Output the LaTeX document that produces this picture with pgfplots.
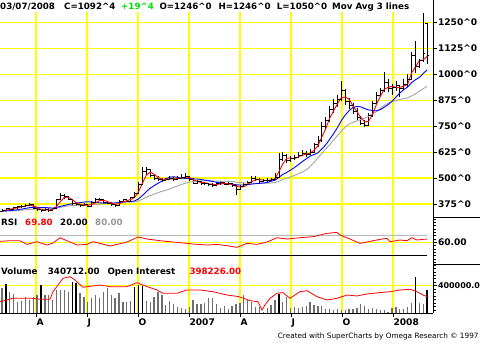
\documentclass[border=0pt]{standalone}
\usepackage{pgfplots}
\usepackage{pgfplotstable}
\pgfplotsset{compat=1.18}
\usepackage{fontspec}
\setmainfont{DejaVu Sans}
\definecolor{gridy}{RGB}{255,255,0}
\definecolor{mared}{RGB}{255,0,0}
\definecolor{mablue}{RGB}{0,0,255}
\definecolor{magray}{RGB}{165,165,165}
\definecolor{upgreen}{RGB}{0,225,0}
\definecolor{lvlgray}{RGB}{185,185,185}
\definecolor{volgray}{RGB}{110,110,110}
\definecolor{txtgray}{RGB}{150,150,150}
\newcommand{\hdr}{\fontsize{8.7}{10}\selectfont\bfseries}
\newcommand{\tkl}{\fontsize{9.1}{10}\selectfont\bfseries}

\pgfplotstableread{
i o h l c
0 340 352 336 345
1 345 356 341 352
2 352 357 344 350
3 350 362 348 358
4 358 366 352 362
5 362 370 357 365
6 365 376 360 370
7 370 378 364 372
8 372 374 350 355
9 355 360 342 348
10 348 352 336 342
11 342 355 340 350
12 350 354 338 345
13 345 358 342 352
14 352 400 350 395
15 395 428 392 415
16 415 425 400 410
17 410 415 392 398
18 398 400 372 378
19 378 382 365 372
20 372 376 362 368
21 368 378 364 372
22 372 375 360 365
23 365 388 362 382
24 382 402 380 395
25 395 404 388 398
26 398 400 380 385
27 385 390 375 380
28 380 384 366 372
29 372 376 362 368
30 368 392 366 388
31 388 400 384 395
32 395 398 384 390
33 390 410 388 405
34 405 432 402 425
35 425 480 422 470
36 470 555 468 530
37 530 552 515 540
38 540 545 505 515
39 515 520 492 500
40 500 508 485 495
41 495 500 480 490
42 490 502 484 495
43 495 508 490 500
44 500 505 485 492
45 492 510 490 500
46 500 520 495 505
47 505 525 500 510
48 510 512 488 495
49 495 498 470 475
50 475 492 472 485
51 485 488 468 475
52 475 482 465 472
53 472 478 462 470
54 470 474 458 465
55 465 480 462 472
56 472 486 468 478
57 478 482 465 470
58 470 480 466 472
59 472 476 455 465
60 465 468 420 445
61 445 465 440 460
62 460 476 455 470
63 470 484 465 478
64 478 512 475 500
65 500 510 488 495
66 495 500 478 485
67 485 496 480 488
68 488 498 482 490
69 490 502 484 495
70 495 525 490 505
71 505 620 500 590
72 590 625 580 610
73 610 615 570 585
74 585 605 578 595
75 595 612 588 600
76 600 625 595 610
77 610 635 605 620
78 620 630 600 615
79 615 640 610 625
80 625 670 620 660
81 660 700 650 680
82 680 770 675 750
83 750 795 735 780
84 780 845 770 830
85 830 880 815 860
86 860 900 840 880
87 880 965 870 920
88 920 930 850 870
89 870 885 830 850
90 850 860 810 820
91 820 835 780 790
92 790 800 755 765
93 765 780 745 755
94 755 815 750 800
95 800 870 795 860
96 860 915 850 900
97 900 935 890 920
98 920 1012 915 960
99 960 975 915 930
100 930 955 900 935
101 935 965 920 945
102 945 950 890 930
103 930 975 925 950
104 950 1000 940 975
105 975 1105 970 1090
106 1090 1158 1005 1040
107 1040 1075 1030 1065
108 1065 1295 1060 1100
109 1246 1246 1050 1092
}\ohlc

\pgfplotstableread{
i r b g
0 341.7 340.6 340.3
1 345.7 341.9 340.9
2 349 343 341.5
3 353.3 345 342.5
4 356.7 347.4 343.7
5 361.7 350.2 345.1
6 365.7 353.6 346.8
7 369 357.1 348.6
8 365.7 358.8 349.4
9 358.3 359.1 349.8
10 348.3 358 349.9
11 346.7 358 350.5
12 345.7 356.6 350.8
13 349 355.4 351.4
14 364 358.8 354.5
15 387.3 363.8 358.7
16 406.7 368 362.6
17 407.7 372.8 365.8
18 395.3 376.1 367.6
19 382.7 379.4 368.7
20 372.7 381.4 369.7
21 370.7 384.4 370.5
22 368.3 385.9 370.7
23 373 384.4 371.6
24 380.7 382.2 373
25 391.7 380.9 374.4
26 392.7 379.4 376.1
27 387.7 379.7 377.9
28 379 379.7 379.6
29 373.3 379.7 380.6
30 376 381.4 382.9
31 383.7 384.8 385.3
32 391 385.7 385.1
33 396.7 386.8 384.5
34 406.7 389.8 385.3
35 433.3 399.2 389.3
36 475 415.9 397.8
37 513.3 434.6 407.1
38 528.3 450.9 415.3
39 518.3 463.3 422.4
40 503.3 474.4 429.6
41 495 485.6 435.6
42 493.3 495.6 441.2
43 495 503.9 446.8
44 495.7 506.3 455
45 497.3 503 462
46 499 499.1 469
47 505 498.6 475
48 503.3 498 480
49 493.3 495.8 483
50 485 495.2 485
51 478.3 493 486
52 477.3 489.9 486.5
53 472.3 487.4 486.5
54 469 483.6 486
55 469 479.9 485.5
56 471.7 476.3 485
57 473.3 473.6 484.5
58 473.3 473.2 484
59 469 471 483.1
60 460.7 467.7 480.3
61 456.7 466.3 478.1
62 458.3 466.3 476.9
63 469.3 467.8 475.7
64 482.7 470.9 475.4
65 491 472.8 474.6
66 493.3 474.4 474
67 489.3 476.2 474.7
68 487.7 479 475
69 491 484.6 476.1
70 496.7 489.6 477.9
71 530 502.9 484.6
72 568.3 517.6 492.7
73 595 527 498.9
74 596.7 538.1 505.4
75 593.3 550.9 512.7
76 601.7 564.4 520.3
77 610 578.9 528.9
78 615 592.2 539
79 620 605.6 555
80 633.3 613.3 575
81 655 621.1 597
82 696.7 639.4 618
83 736.7 660 640
84 786.7 685.6 660
85 823.3 713.3 682
86 856.7 742.2 705
87 886.7 776.1 725
88 890 803.3 745
89 880 824.4 760
90 846.7 840 768
91 820 844.4 775
92 791.7 842.8 782
93 770 834.4 788
94 773.3 827.8 798
95 805 825.6 808
96 853.3 823.3 820
97 893.3 828.9 835
98 926.7 841.1 850
99 936.7 853.3 860
100 941.7 869.4 868
101 936.7 889.4 873
102 936.7 908.9 878
103 941.7 925.6 882
104 951.7 938.3 886
105 1005 959.4 895
106 1035 972.8 905
107 1065 984.4 918
108 1068.3 1003.3 930
109 1085.7 1020.8 942
}\mavg

\pgfplotstableread{
i v
0 362
1 425
2 313
3 275
4 168
5 183
6 241
7 193
8 232
9 265
10 410
11 265
12 265
13 193
14 338
15 338
16 338
17 313
18 449
19 435
20 290
21 241
22 168
23 217
24 265
25 217
26 313
27 362
28 265
29 217
30 290
31 168
32 168
33 178
34 386
35 410
36 396
37 178
38 168
39 241
40 313
41 265
42 120
43 178
44 140
45 92
46 82
47 58
48 92
49 198
50 140
51 140
52 150
53 217
54 217
55 140
56 82
57 101
58 63
59 101
60 130
61 150
62 265
63 193
64 168
65 96
66 87
67 23
68 72
69 120
70 193
71 275
72 168
73 241
74 72
75 87
76 72
77 96
78 106
79 164
80 120
81 106
82 106
83 58
84 63
85 48
86 63
87 48
88 48
89 58
90 63
91 82
92 140
93 106
94 63
95 82
96 63
97 48
98 48
99 20
100 72
101 87
102 58
103 63
104 87
105 150
106 530
107 150
108 130
109 340.7
}\vol

\pgfplotsset{
  panel/.style={
    scale only axis, width=433pt, xmin=0, xmax=433,
    anchor=south west,
    axis line style={draw=none},
    xtick={36,87,138,189,240,291,342,393},
    grid=major,
    major grid style={draw=gridy, line width=1.1pt},
    tick align=outside,
    major tick length=4pt, minor tick length=2.5pt,
    ytick pos=right, yticklabel pos=right,
    ytick style={black, line width=0.6pt},
    yticklabel style={anchor=west, inner sep=0pt, xshift=0.8pt, font=\tkl},
    scaled y ticks=false,
  },
  nox/.style={xticklabels={}, xtick style={draw=none}},
}

\begin{document}
\begin{tikzpicture}
\path[use as bounding box, fill=white] (0,0) rectangle (480pt,361pt);
\clip (0,0) rectangle (480pt,361pt);

% ---------- price panel ----------
\begin{axis}[panel, nox, at={(0pt,144pt)}, height=205pt,
  ymin=312.4, ymax=1299.4,
  ytick={375,500,625,750,875,1000,1125,1250},
  yticklabels={375\textasciicircum 0,500\textasciicircum 0,625\textasciicircum 0,750\textasciicircum 0,875\textasciicircum 0,1000\textasciicircum 0,1125\textasciicircum 0,1250\textasciicircum 0}]
\addplot[black, only marks, mark=-, mark size=1.1pt, mark options={xshift=1.1pt, line width=0.7pt},
  error bars/.cd, y dir=both, y explicit, error mark=none, error bar style={line width=0.7pt, black}]
  table[x expr=2+3.9*\thisrow{i}, y=c, y error plus expr=\thisrow{h}-\thisrow{c}, y error minus expr=\thisrow{c}-\thisrow{l}] {\ohlc};
\addplot[black, only marks, mark=-, mark size=1.1pt, mark options={xshift=-1.1pt, line width=0.7pt}]
  table[x expr=2+3.9*\thisrow{i}, y=o] {\ohlc};
\addplot[magray, line width=0.9pt] table[x expr=2+3.9*\thisrow{i}, y=g] {\mavg};
\addplot[mablue, line width=0.9pt] table[x expr=2+3.9*\thisrow{i}, y=b] {\mavg};
\addplot[mared, line width=0.9pt] table[x expr=2+3.9*\thisrow{i}, y=r] {\mavg};
\end{axis}

% ---------- RSI panel ----------
\begin{axis}[panel, nox, at={(0pt,97pt)}, height=47pt,
  ymin=-5, ymax=136.2,
  ytick={60}, yticklabels={60.00}, minor ytick={0,10,...,130}]
\addplot[lvlgray, line width=1.2pt] coordinates {(0,80) (427,80)};
\addplot[black, line width=0.7pt] coordinates {(0,20) (427,20)};
\addplot[mared, line width=0.8pt] coordinates {
(0,63) (10,65) (20,65) (27,54) (37,62) (40,59) (47,52) (53,58) (60,74) (70,61)
(77,52) (87,54) (93,62) (100,57) (110,49) (117,54) (127,61) (138,76) (147,70)
(160,65) (173,61) (187,57) (193,55) (207,52) (217,54) (227,50) (237,45) (247,57)
(257,54) (267,61) (277,74) (287,70) (300,74) (313,77) (327,87) (337,90) (340,82)
(350,70) (360,57) (367,61) (380,69) (387,72) (390,62) (400,67) (407,65) (412,74)
(417,67) (423,69) (427,69.8)};
\end{axis}

% ---------- Volume panel ----------
\begin{axis}[panel, at={(0pt,47.7pt)}, height=49.3pt,
  ymin=0, ymax=714.5,
  ytick={400}, yticklabels={400000.0}, minor ytick={50,100,...,700},
  yticklabel style={font=\fontsize{8}{9}\selectfont\bfseries},
  xtick pos=left, xticklabels={A,J,O,2007,A,J,O,2008},
  xtick style={black, line width=0.6pt},
  xticklabel style={anchor=north west, inner sep=0pt, font=\tkl, xshift=0.3pt, yshift=-1.5pt}]
\addplot[volgray, ycomb, line width=1.3pt] table[x expr=2+3.9*\thisrow{i}, y=v] {\vol};
\addplot[black, ycomb, line width=1.3pt] coordinates {
(5.9,425) (41,410) (72.2,449) (76.1,435) (134.6,386) (138.5,410) (142.4,396)
(278.9,275) (415.4,530) (427.1,340.7)};
\addplot[mared, line width=0.8pt] coordinates {
(0,168) (13,217) (33,217) (40,203) (50,203) (53,313) (58,410) (63,507) (70,531)
(75,483) (83,377) (100,410) (110,386) (127,386) (137,444) (147,386) (157,338)
(163,290) (177,290) (187,338) (200,338) (213,313) (227,265) (239,241) (250,183)
(258,168) (262,48) (265,120) (270,217) (277,290) (283,300) (290,217) (300,313)
(307,328) (317,241) (327,193) (337,217) (347,265) (357,251) (367,280) (380,300)
(390,313) (400,338) (410,348) (417,313) (423,265) (427,241)};
\end{axis}

% ---------- frame lines ----------
\draw[black, line width=0.8pt] (433pt,47.7pt) -- (433pt,361pt);
\draw[black, line width=0.8pt] (0pt,47.7pt) -- (433pt,47.7pt);
\draw[black, line width=0.8pt] (433pt,144pt) -- (480pt,144pt);
\draw[black, line width=0.8pt] (433pt,97pt) -- (480pt,97pt);

% ---------- header ----------
\begin{scope}[every node/.style={anchor=base west, inner sep=0pt, font=\hdr}]
\node at (0pt,351.7pt) {03/07/2008};
\node at (64pt,351.7pt) {C=1092\textasciicircum 4};
\node[text=upgreen] at (121pt,351.7pt) {+19\textasciicircum 4};
\node at (159.3pt,351.7pt) {O=1246\textasciicircum 0};
\node at (218.3pt,351.7pt) {H=1246\textasciicircum 0};
\node at (276.7pt,351.7pt) {L=1050\textasciicircum 0};
\node at (332pt,351.7pt) {Mov Avg 3 lines};
% RSI row
\node at (1pt,135pt) {RSI};
\node[text=mared] at (25pt,135pt) {69.80};
\node at (60pt,135pt) {20.00};
\node[text=txtgray] at (95pt,135pt) {80.00};
% Volume row
\node at (1pt,86pt) {Volume};
\node at (47.7pt,86pt) {340712.00};
\node at (107.3pt,86pt) {Open Interest};
\node[text=mared] at (189.3pt,86pt) {398226.00};
\end{scope}
\node[anchor=base west, inner sep=0pt, font=\fontsize{7.3}{9}\selectfont] at (277.7pt,22.7pt) {Created with SuperCharts by Omega Research © 1997};
\end{tikzpicture}
\end{document}
